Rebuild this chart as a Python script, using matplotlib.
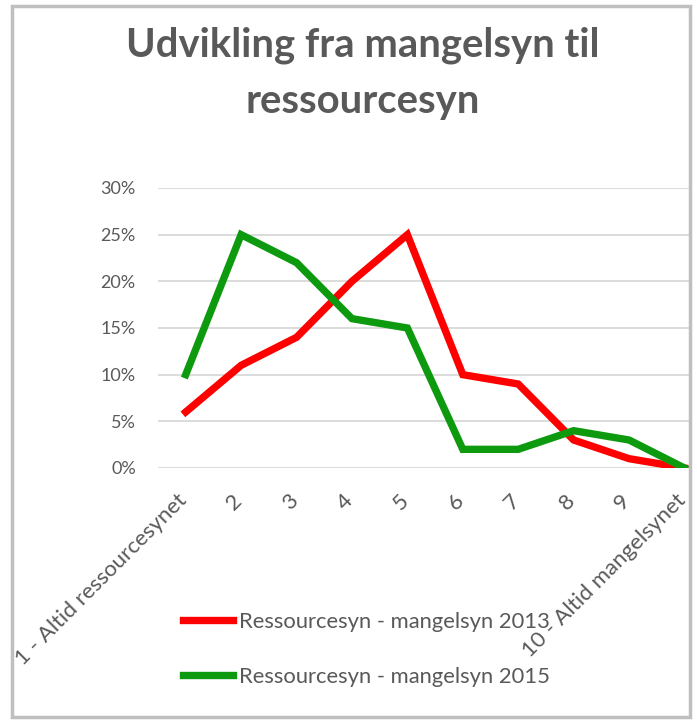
import matplotlib
matplotlib.use('Agg')
import matplotlib.pyplot as plt
from matplotlib.patches import Rectangle
from matplotlib.ticker import PercentFormatter
from matplotlib.transforms import ScaledTranslation

categories = ['1 - Altid ressourcesynet', '2', '3', '4', '5', '6', '7', '8', '9',
              '10 - Altid mangelsynet']
values_2013 = [6, 11, 14, 20, 25, 10, 9, 3, 1, 0]
values_2015 = [10, 25, 22, 16, 15, 2, 2, 4, 3, 0]
y_ticks = [0, 5, 10, 15, 20, 25, 30]

GRAY = '#595959'
plt.rcParams['font.family'] = ['Lato', 'DejaVu Sans']


def plot():
    fig = plt.figure(figsize=(6.97, 7.2), dpi=100)
    fig.patches.append(Rectangle((12 / 697, 3 / 720), 678 / 697, 711 / 720,
                                 transform=fig.transFigure, fill=False,
                                 edgecolor='#BFBFBF', linewidth=2.5))

    ax = fig.add_axes([158 / 697, 252 / 720, 532 / 697, 280 / 720])
    x = list(range(len(categories)))
    ax.plot(x, values_2013, color='#FF0000', linewidth=5.3,
            solid_joinstyle='miter', label='Ressourcesyn - mangelsyn 2013', zorder=3)
    ax.plot(x, values_2015, color='#0E9A0E', linewidth=5.3,
            solid_joinstyle='miter', label='Ressourcesyn - mangelsyn 2015', zorder=3)

    ax.set_ylim(0, 30)
    ax.set_xlim(-0.5, 9.1)
    ax.set_yticks(y_ticks)
    ax.yaxis.set_major_formatter(PercentFormatter(decimals=0))
    ax.grid(axis='y', color='#D9D9D9', linewidth=1.3)
    ax.set_axisbelow(True)
    for s in ax.spines.values():
        s.set_visible(False)
    ax.tick_params(length=0, labelcolor=GRAY)
    ax.tick_params(axis='y', pad=16, labelsize=13)

    ax.set_xticks(x)
    ax.set_xticklabels(categories, rotation=45, ha='right', va='top',
                       rotation_mode='anchor', fontsize=16)
    ax.tick_params(axis='x', pad=16)
    # pull the rotated labels back so their ends sit under the tick
    shift = ScaledTranslation(-9 / 100, 0, fig.dpi_scale_trans)
    for lbl in ax.get_xticklabels():
        lbl.set_transform(lbl.get_transform() + shift)

    fig.text(363 / 697, 1 - 45 / 720, 'Udvikling fra mangelsyn til', ha='center',
             va='center', fontsize=28.8, fontweight='bold', color=GRAY)
    fig.text(363 / 697, 1 - 101 / 720, 'ressourcesyn', ha='center',
             va='center', fontsize=28.8, fontweight='bold', color=GRAY)

    leg = ax.legend(loc='upper left', bbox_to_anchor=(183 / 697, 1 - 612 / 720),
                    bbox_transform=fig.transFigure, frameon=False, fontsize=15.8,
                    handlelength=2.3, handletextpad=0.25, labelspacing=1.6,
                    borderpad=0, borderaxespad=0)
    for t in leg.get_texts():
        t.set_color(GRAY)

    fig.savefig('out.png', dpi=100)


if __name__ == '__main__':
    plot()
